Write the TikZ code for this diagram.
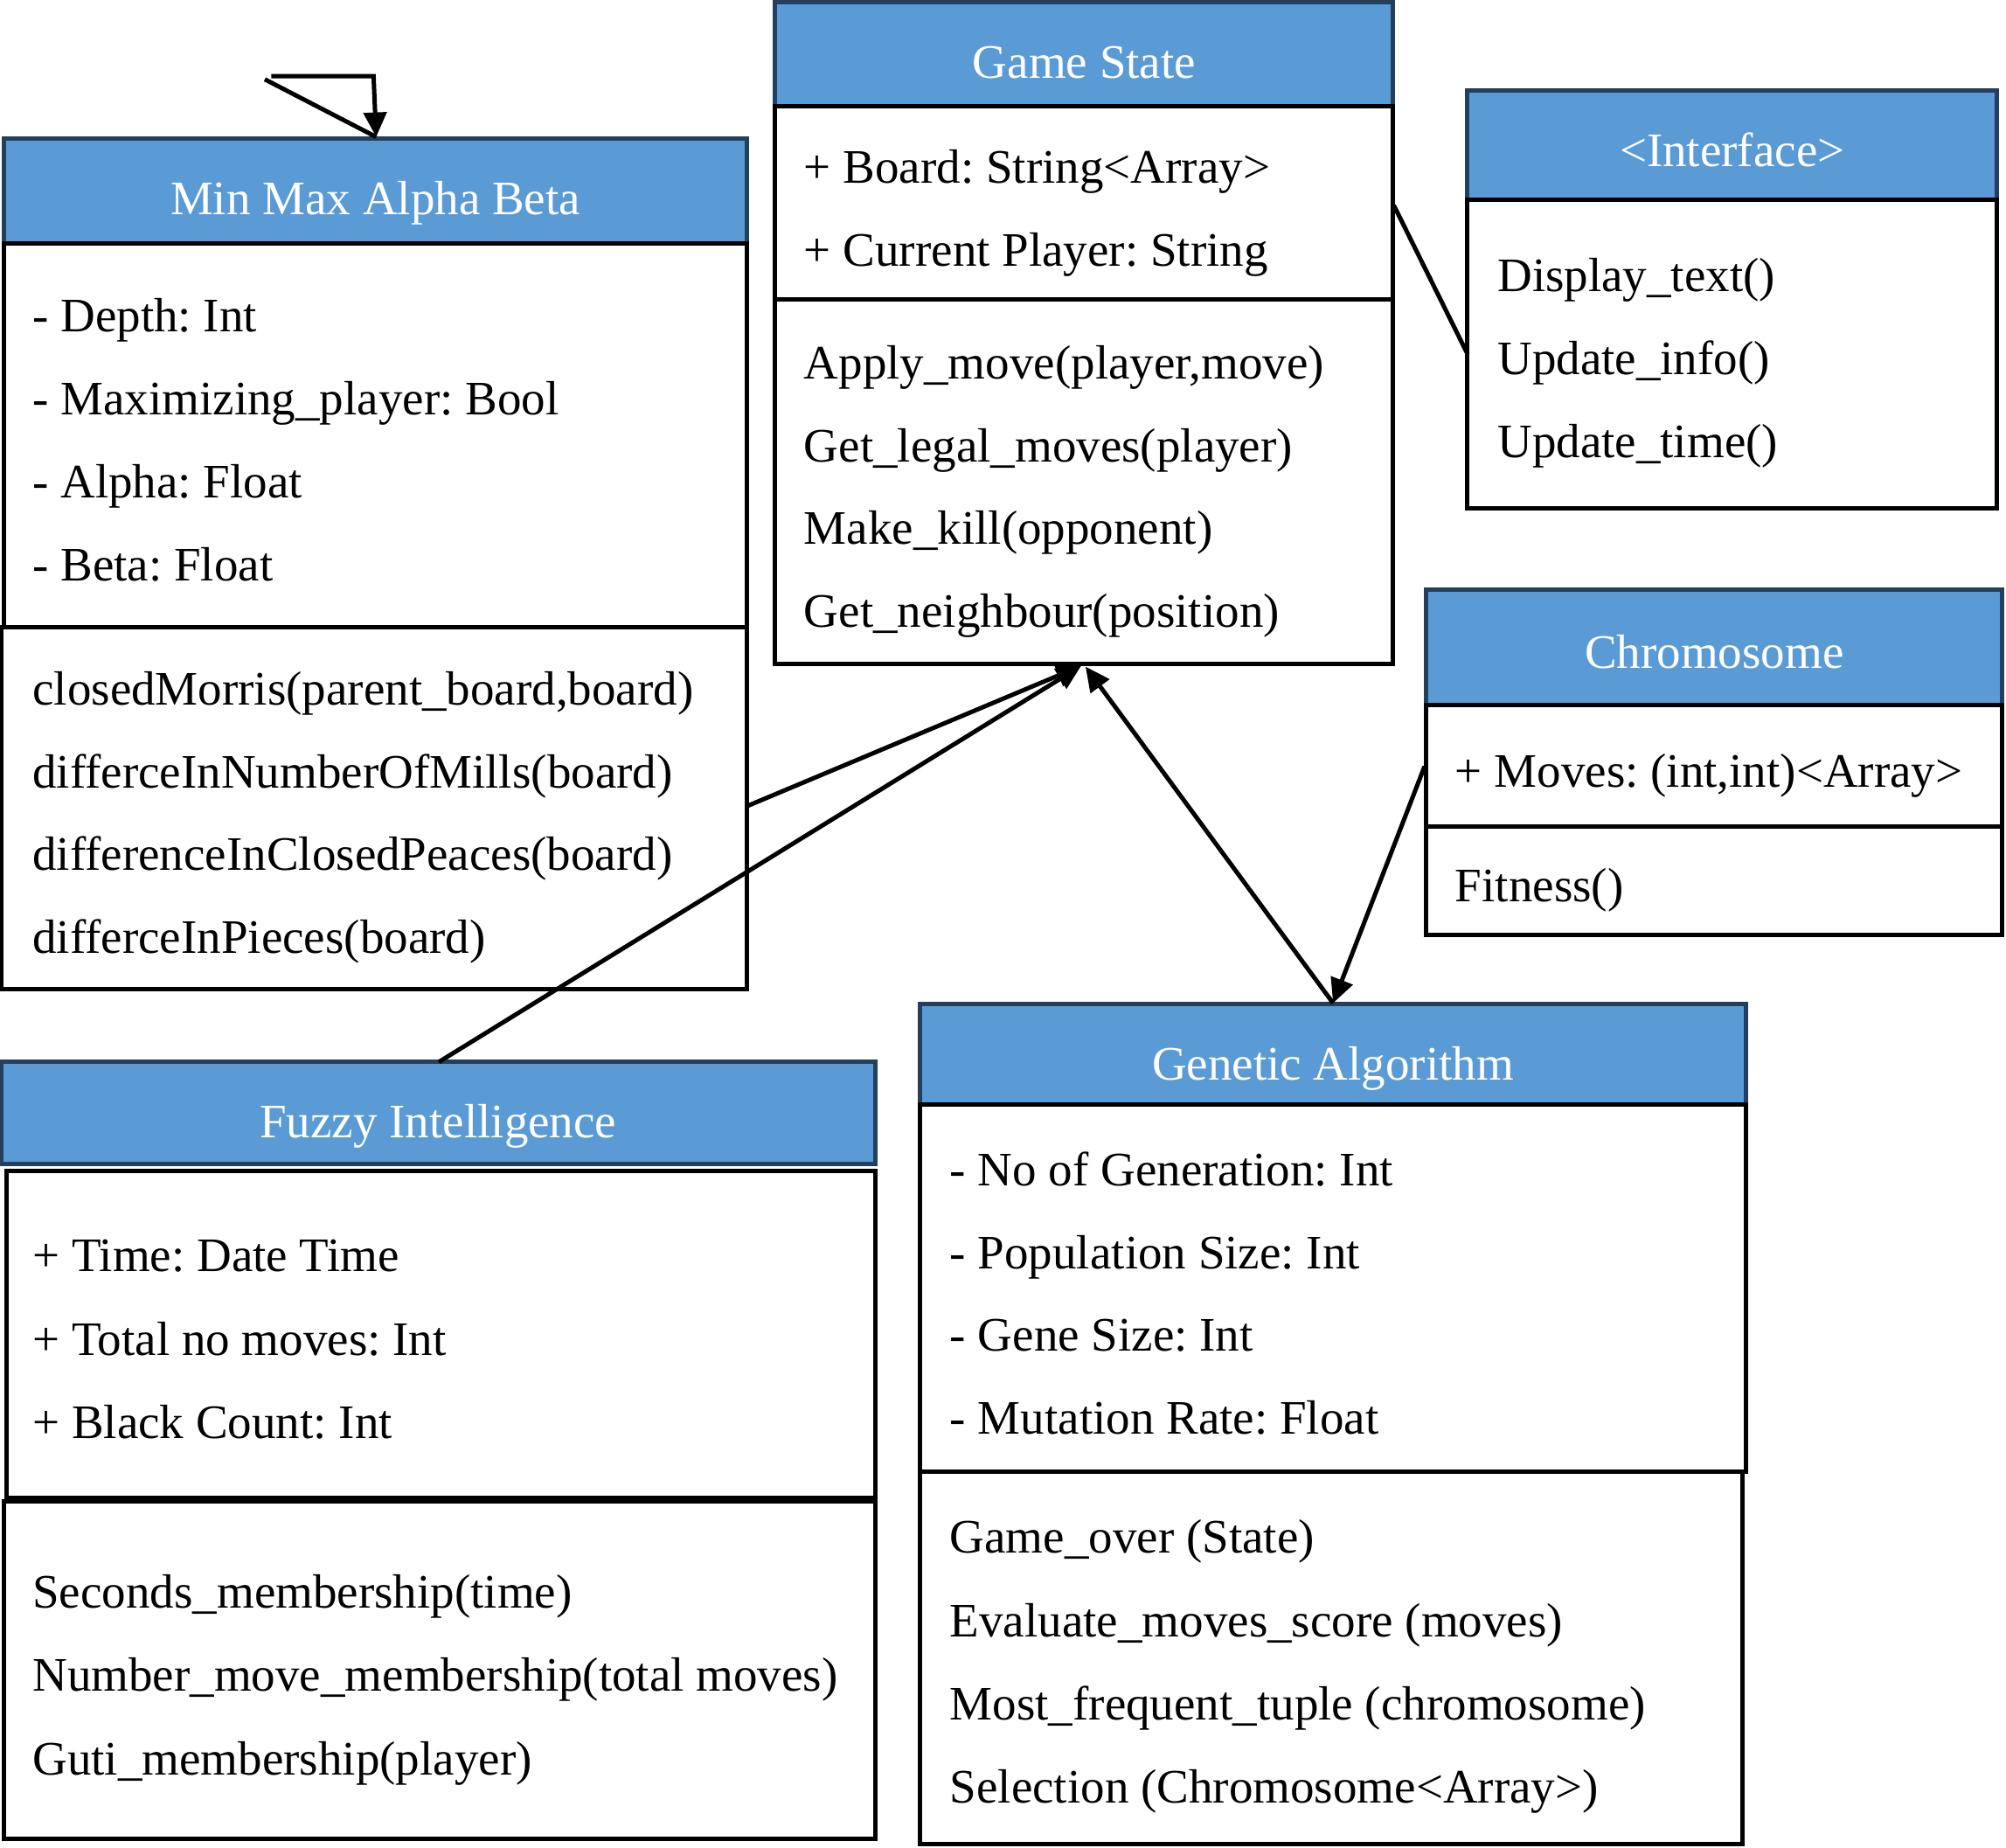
\documentclass[tikz,border=0pt]{standalone}
\usepackage{fontspec}
\setmainfont{Liberation Serif}
\usetikzlibrary{arrows.meta,fit,calc}
\definecolor{hdrfill}{HTML}{5B9BD5}
\definecolor{hdrline}{RGB}{34,63,94}
\frenchspacing
\begin{document}
\begin{tikzpicture}[x=0.36587pt,y=-0.36587pt,
  hdr/.style={draw=hdrline,fill=hdrfill,line width=1.25pt,inner sep=0pt},
  sect/.style={draw=black,line width=1.25pt,inner sep=0pt},
  hdrtext/.style={text=white,font=\fontsize{13.75pt}{16pt}\selectfont\frenchspacing,anchor=base,inner sep=0pt},
  rowtext/.style={font=\fontsize{13.75pt}{16pt}\selectfont\frenchspacing,anchor=base west,inner sep=0pt},
  conn/.style={line width=1.25pt},
  arrowto/.style={-{Triangle[length=7pt,width=6.5pt]}}
]
\useasboundingbox (0,0) rectangle (1568,1444.3);

% ---------- headers ----------
\node[hdr,fit={(3,108)(584,190)}] (mmH) {};
\node[hdr,fit={(606,2)(1089,83)}] (gsH) {};
\node[hdr,fit={(1147,71)(1561,156)}] (ifH) {};
\node[hdr,fit={(1115,461)(1565,551)}] (chH) {};
\node[hdr,fit={(719,785)(1365,863)}] (gaH) {};
\node[hdr,fit={(1,830)(684,910)}] (fzH) {};

% ---------- sections ----------
\node[sect,fit={(3,190)(584,490)}] (mmA) {};
\node[sect,fit={(1,490)(584,773)}] (mmM) {};
\node[sect,fit={(606,83)(1089,234)}] (gsA) {};
\node[sect,fit={(606,234)(1089,519)}] (gsM) {};
\node[sect,fit={(1147,156)(1561,397)}] (ifB) {};
\node[sect,fit={(1115,551)(1565,646)}] (chA) {};
\node[sect,fit={(1115,646)(1565,731)}] (chM) {};
\node[sect,fit={(719,863)(1365,1150)}] (gaA) {};
\node[sect,fit={(719,1150)(1362,1441)}] (gaM) {};
\node[sect,fit={(5,915)(684,1170.5)}] (fzA) {};
\node[sect,fit={(3,1173.5)(684,1437)}] (fzM) {};

% ---------- header texts ----------
\node[hdrtext] (mmT) at (293.5,168) {Min Max Alpha Beta};
\node[hdrtext] (gsT) at (847.5,61) {Game State};
\node[hdrtext] (ifT) at (1354,130) {<Interface>};
\node[hdrtext] (chT) at (1340,522) {Chromosome};
\node[hdrtext] (gaT) at (1042,844) {Genetic Algorithm};
\node[hdrtext] (fzT) at (342.5,889) {Fuzzy Intelligence};

% ---------- Min Max Alpha Beta ----------
\node[rowtext] (mm1) at (25,259) {- Depth: Int};
\node[rowtext] (mm2) at (25,324) {- Maximizing\_player: Bool};
\node[rowtext] (mm3) at (25,389) {- Alpha: Float};
\node[rowtext] (mm4) at (25,454) {- Beta: Float};
\node[rowtext] (mm5) at (25,551) {closedMorris(parent\_board,board)};
\node[rowtext] (mm6) at (25,616) {differceInNumberOfMills(board)};
\node[rowtext] (mm7) at (25,680) {differenceInClosedPeaces(board)};
\node[rowtext] (mm8) at (25,745) {differceInPieces(board)};

% ---------- Game State ----------
\node[rowtext] (gs1) at (628,143) {+ Board: String<Array>};
\node[rowtext] (gs2) at (628,208) {+ Current Player: String};
\node[rowtext] (gs3) at (628,296) {Apply\_move(player,move)};
\node[rowtext] (gs4) at (628,361) {Get\_legal\_moves(player)};
\node[rowtext] (gs5) at (628,425) {Make\_kill(opponent)};
\node[rowtext] (gs6) at (628,490) {Get\_neighbour(position)};

% ---------- Interface ----------
\node[rowtext] (if1) at (1170,228) {Display\_text()};
\node[rowtext] (if2) at (1170,293) {Update\_info()};
\node[rowtext] (if3) at (1170,358) {Update\_time()};

% ---------- Chromosome ----------
\node[rowtext] (ch1) at (1137,615) {+ Moves: (int,int)<Array>};
\node[rowtext] (ch2) at (1137,705) {Fitness()};

% ---------- Genetic Algorithm ----------
\node[rowtext] (ga1) at (742,927) {- No of Generation: Int};
\node[rowtext] (ga2) at (742,992) {- Population Size: Int};
\node[rowtext] (ga3) at (742,1056) {- Gene Size: Int};
\node[rowtext] (ga4) at (742,1121) {- Mutation Rate: Float};
\node[rowtext] (ga5) at (742,1214) {Game\_over (State)};
\node[rowtext] (ga6) at (742,1279) {Evaluate\_moves\_score (moves)};
\node[rowtext] (ga7) at (742,1344) {Most\_frequent\_tuple (chromosome)};
\node[rowtext] (ga8) at (742,1409) {Selection (Chromosome<Array>)};

% ---------- Fuzzy Intelligence ----------
\node[rowtext] (fz1) at (25,994) {+ Time: Date Time};
\node[rowtext] (fz2) at (25,1059) {+ Total no moves: Int};
\node[rowtext] (fz3) at (25,1124) {+ Black Count: Int};
\node[rowtext] (fz4) at (25,1257) {Seconds\_membership(time)};
\node[rowtext] (fz5) at (25,1322) {Number\_move\_membership(total moves)};
\node[rowtext] (fz6) at (25,1387) {Guti\_membership(player)};

% ---------- connector end points ----------
\coordinate (loopA) at (207,62);
\coordinate (loopB) at (212,59.5);
\coordinate (loopC) at (292,59.5);
\coordinate (mmLoop) at (294,107);
\coordinate (mmOut) at (584,630);
\coordinate (gsInL) at (845,520.5);
\coordinate (gsInR) at (848.5,521);
\coordinate (fzOut) at (343,830);
\coordinate (gaIn) at (1042,784);
\coordinate (chOut) at (1113.5,599);
\coordinate (gsSide) at (1089.5,160.5);
\coordinate (ifSide) at (1146.5,275.5);

% ---------- connectors ----------
\draw[conn] (loopA) -- (mmLoop);
\draw[conn,arrowto] (loopB) -- (loopC) -- (mmLoop);
\draw[conn,arrowto] (mmOut) -- (gsInL);
\draw[conn,arrowto] (fzOut) -- (gsInL);
\draw[conn,arrowto] (gaIn) -- (gsInR);
\draw[conn,arrowto] (chOut) -- (gaIn);
\draw[conn] (gsSide) -- (ifSide);
\end{tikzpicture}
\end{document}
